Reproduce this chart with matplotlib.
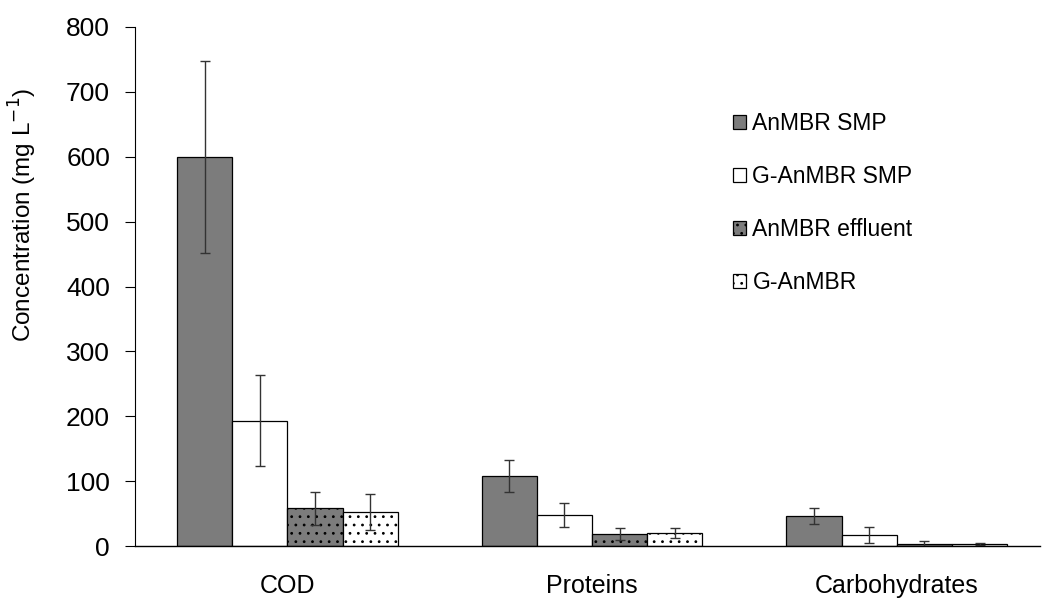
import numpy as np
import matplotlib.pyplot as plt

plt.rcParams['font.family'] = ['Liberation Sans', 'DejaVu Sans']
plt.rcParams['hatch.linewidth'] = 0.8

# concentrations (mg/L) and standard deviations per fraction
categories = ["COD", "Proteins", "Carbohydrates"]
series = ["AnMBR SMP", "G-AnMBR SMP", "AnMBR effluent", "G-AnMBR"]
anmbr_smp = [600, 108, 46]
anmbr_smp_err = [148, 25, 12]
g_anmbr_smp = [193, 48, 17]
g_anmbr_smp_err = [70, 19, 12]
anmbr_eff = [58, 18, 3]
anmbr_eff_err = [25, 9, 4]
g_anmbr = [52, 20, 3]
g_anmbr_err = [28, 7, 2]

values = [anmbr_smp, g_anmbr_smp, anmbr_eff, g_anmbr]
errors = [anmbr_smp_err, g_anmbr_smp_err, anmbr_eff_err, g_anmbr_err]
faces = ["#7c7c7c", "white", "#7c7c7c", "white"]
hatches = [None, None, "..", ".."]

fig = plt.figure(figsize=(10.42, 6.02), dpi=100)
ax = fig.add_axes([135 / 1042, 56 / 602, 905 / 1042, 519 / 602])

x = np.arange(len(categories))
w = 0.181
for i in range(4):
    pos = x + (i - 1.5) * w
    ax.bar(pos, values[i], width=w, color=faces[i], edgecolor="black",
           linewidth=0.9, hatch=hatches[i], label=series[i],
           yerr=errors[i], capsize=3.5,
           error_kw=dict(ecolor="#333333", elinewidth=1.0, capthick=1.0))

ax.set_xlim(-0.5, 2.47)
ax.set_ylim(0, 800)
ax.set_yticks(range(0, 801, 100))
ax.set_xticks(x)
ax.set_xticklabels(categories)
ax.tick_params(axis="x", length=0, pad=20, labelsize=18)
ax.tick_params(axis="y", length=7, width=0.8, direction="out", pad=11, labelsize=19)
ax.set_ylabel("Concentration (mg L$^{-1}$)", fontsize=17.5)
ax.yaxis.set_label_coords(-0.106, 0.638)

for s in ["top", "right"]:
    ax.spines[s].set_visible(False)
ax.spines["left"].set_linewidth(0.8)
ax.spines["bottom"].set_linewidth(1.0)

ax.legend(loc="upper left", bbox_to_anchor=(0.638, 0.875), frameon=False,
          fontsize=16.5, handlelength=0.55, handleheight=0.55, handletextpad=0.3,
          labelspacing=1.3)

fig.savefig("out.png", dpi=100)
